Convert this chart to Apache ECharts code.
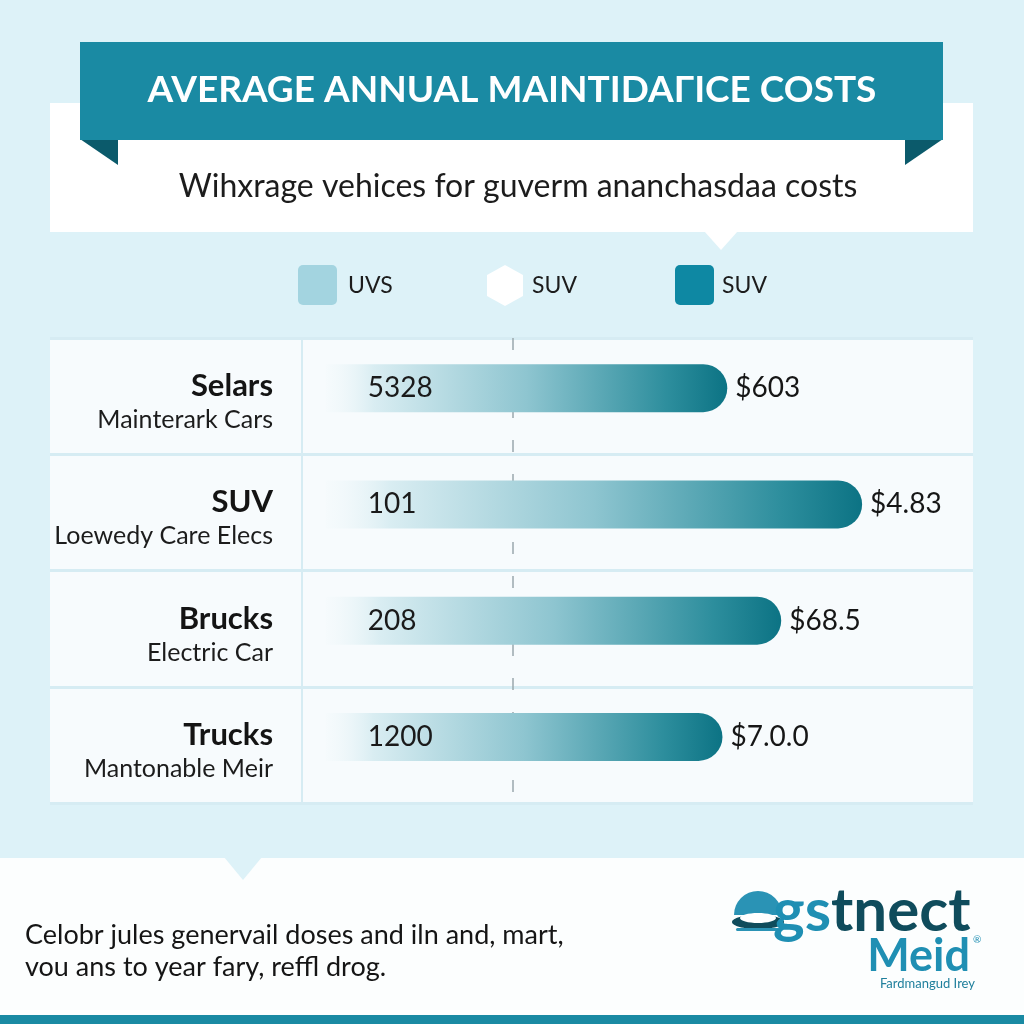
<!DOCTYPE html>
<html>
<head>
<meta charset="utf-8">
<script src="https://cdn.jsdelivr.net/npm/echarts@6/dist/echarts.min.js"></script>
<style>
html,body{margin:0;padding:0;background:#ddf2f8;}
#chart{width:1024px;height:1024px;}
</style>
</head>
<body>
<div id="chart"></div>
<script>
// ---- data ----
const categories = ['Selars', 'SUV', 'Brucks', 'Trucks'];
const subLabels = ['Mainterark Cars', 'Loewedy Care Elecs', 'Electric Car', 'Mantonable Meir'];
const barValues = [67, 89.5, 76, 66.2];
const innerLabels = ['5328', '101', '208', '1200'];
const valueLabels = ['$603', '$4.83', '$68.5', '$7.0.0'];
const legendNames = ['UVS', 'SUV', 'SUV'];
const titleText = 'AVERAGE ANNUAL MAINTIDAΓICE COSTS';
const subtitleText = 'Wihxrage vehices for guverm ananchasdaa costs';
const footerLines = ['Celobr jules genervail doses and iln and, mart,', 'vou ans to year fary, reffl drog.'];
const dashedAt = 31.2;
const dividerAt = -4;

const TEAL = '#1a8aa3';
const DARK = '#0b5a6b';
const BG = '#ddf2f8';
const FONT = 'Lato, "Open Sans", sans-serif';

const chart = echarts.init(document.getElementById('chart'));

const barGradient = new echarts.graphic.LinearGradient(0, 0, 1, 0, [
  {offset: 0, color: 'rgba(240,248,250,0.2)'},
  {offset: 0.12, color: '#d9edf2'},
  {offset: 0.5, color: '#8ec5d0'},
  {offset: 0.85, color: '#2d8e9d'},
  {offset: 1, color: '#0c7384'}
]);

const graphic = [
  {type: 'rect', shape: {x: 50, y: 103, width: 923, height: 129}, style: {fill: '#ffffff'}},
  {type: 'polygon', shape: {points: [[704, 231], [738, 231], [721, 250]]}, style: {fill: '#ffffff'}},
  {type: 'polygon', shape: {points: [[80, 139], [118, 139], [118, 165]]}, style: {fill: DARK}},
  {type: 'polygon', shape: {points: [[943, 139], [905, 139], [905, 165]]}, style: {fill: DARK}},
  {type: 'rect', shape: {x: 80, y: 42, width: 863, height: 98}, style: {fill: TEAL}},
  {type: 'text', x: 512, y: 90, style: {text: titleText, fill: '#ffffff', font: 'bold 37px ' + FONT, align: 'center', verticalAlign: 'middle'}},
  {type: 'text', x: 518, y: 187, style: {text: subtitleText, fill: '#1c1c1c', font: '32px ' + FONT, align: 'center', verticalAlign: 'middle'}},
  // legend
  {type: 'rect', shape: {x: 298, y: 265, width: 39, height: 40, r: 5}, style: {fill: '#a3d4e0'}},
  {type: 'text', x: 348, y: 286, style: {text: legendNames[0], fill: '#1c1c1c', font: '23px ' + FONT, verticalAlign: 'middle'}},
  {type: 'polygon', shape: {points: [[505, 265], [523, 275], [523, 296], [505, 306], [487, 296], [487, 275]]}, style: {fill: '#ffffff'}},
  {type: 'text', x: 532, y: 286, style: {text: legendNames[1], fill: '#1c1c1c', font: '23px ' + FONT, verticalAlign: 'middle'}},
  {type: 'rect', shape: {x: 675, y: 265, width: 39, height: 40, r: 5}, style: {fill: '#0e88a3'}},
  {type: 'text', x: 722, y: 286, style: {text: legendNames[2], fill: '#1c1c1c', font: '23px ' + FONT, verticalAlign: 'middle'}},
  // footer
  {type: 'rect', shape: {x: 0, y: 858, width: 1024, height: 157}, style: {fill: '#fcfefe'}},
  {type: 'polygon', shape: {points: [[224, 857], [262, 857], [243, 880]]}, style: {fill: BG}},
  {type: 'text', x: 25, y: 935, style: {text: footerLines[0], fill: '#151515', font: '27px ' + FONT, verticalAlign: 'middle'}},
  {type: 'text', x: 25, y: 967, style: {text: footerLines[1], fill: '#151515', font: '27px ' + FONT, verticalAlign: 'middle'}},
  // logo
  {type: 'sector', shape: {cx: 758, cy: 915, r0: 0, r: 24, startAngle: Math.PI, endAngle: Math.PI * 2}, style: {fill: '#2a93b5'}},
  {type: 'ellipse', shape: {cx: 758, cy: 922, rx: 26, ry: 7}, style: {fill: '#0f4c5c'}},
  {type: 'ellipse', shape: {cx: 758, cy: 918, rx: 18, ry: 5}, style: {fill: '#ffffff'}},
  {type: 'rect', shape: {x: 736, y: 928, width: 44, height: 3, r: 1.5}, style: {fill: '#2a93b5'}},
  {type: 'text', x: 773, y: 912, style: {
    text: '{a|gs}{b|tnect}', verticalAlign: 'middle',
    rich: {a: {fill: '#1f8fb3', font: 'bold 60px ' + FONT}, b: {fill: '#0f4c5c', font: 'bold 60px ' + FONT}}
  }},
  {type: 'text', x: 970, y: 956, style: {text: 'Meid', fill: '#1f8fb3', font: 'bold 45px ' + FONT, align: 'right', verticalAlign: 'middle'}},
  {type: 'text', x: 973, y: 940, style: {text: '®', fill: '#1f8fb3', font: '10px ' + FONT, verticalAlign: 'middle'}},
  {type: 'text', x: 975, y: 984, style: {text: 'Fardmangud Irey', fill: '#1f7f9c', font: '13px ' + FONT, align: 'right', verticalAlign: 'middle'}},
  {type: 'rect', shape: {x: 0, y: 1015, width: 1024, height: 9}, style: {fill: TEAL}}
];

const option = {
  backgroundColor: BG,
  animation: false,
  graphic: graphic,
  grid: {
    left: 50, right: 51, top: 338, bottom: 221,
    containLabel: false, outerBoundsMode: 'none',
    show: true, backgroundColor: '#f7fbfd', borderWidth: 0
  },
  xAxis: {
    type: 'value', min: -46, max: 108,
    axisLine: {show: false}, axisTick: {show: false},
    axisLabel: {show: false}, splitLine: {show: false}
  },
  yAxis: {
    type: 'category', inverse: true, data: categories,
    axisLine: {show: false, onZero: false}, axisTick: {show: false},
    splitLine: {show: true, lineStyle: {color: '#d6ecf3', width: 3}},
    axisLabel: {
      inside: true, margin: 223, align: 'right',
      padding: [14, 0, 0, 0],
      formatter: function (v, i) { return '{a|' + v + '}\n{b|' + subLabels[i] + '}'; },
      rich: {
        a: {fontFamily: FONT, fontWeight: 'bold', fontSize: 31, color: '#141414', lineHeight: 34, align: 'right'},
        b: {fontFamily: FONT, fontSize: 25, color: '#1c1c1c', lineHeight: 34, align: 'right'}
      }
    }
  },
  series: [
    {
      type: 'line', data: [], z: 1, silent: true,
      markLine: {
        z: 1, symbol: 'none', silent: true, label: {show: false},
        data: [
          {xAxis: dashedAt, lineStyle: {type: [12, 22], color: '#9aa8ad', width: 1.5}},
          {xAxis: dividerAt, lineStyle: {type: 'solid', color: '#d6ecf3', width: 2}}
        ]
      }
    },
    {
      type: 'bar', z: 2, barWidth: 48, stack: 'v',
      data: barValues,
      itemStyle: {color: barGradient, borderRadius: [0, 24, 24, 0]},
      label: {
        show: true, position: 'insideLeft', distance: 42,
        formatter: function (p) { return innerLabels[p.dataIndex]; },
        fontFamily: FONT, fontSize: 28, color: '#1a1a1a'
      }
    },
    {
      type: 'bar', z: 3, barWidth: 48, stack: 'v',
      data: barValues.map(function () { return 0; }),
      itemStyle: {color: 'rgba(0,0,0,0)'},
      label: {
        show: true, position: 'right', distance: 8,
        formatter: function (p) { return valueLabels[p.dataIndex]; },
        fontFamily: FONT, fontSize: 28, color: '#161616'
      }
    },
    {
      type: 'bar', z: 0, barWidth: 16, barGap: 0,
      data: barValues.map(function () { return 0; }),
      itemStyle: {color: 'rgba(0,0,0,0)'}
    }
  ]
};
chart.setOption(option);
</script>
</body>
</html>
